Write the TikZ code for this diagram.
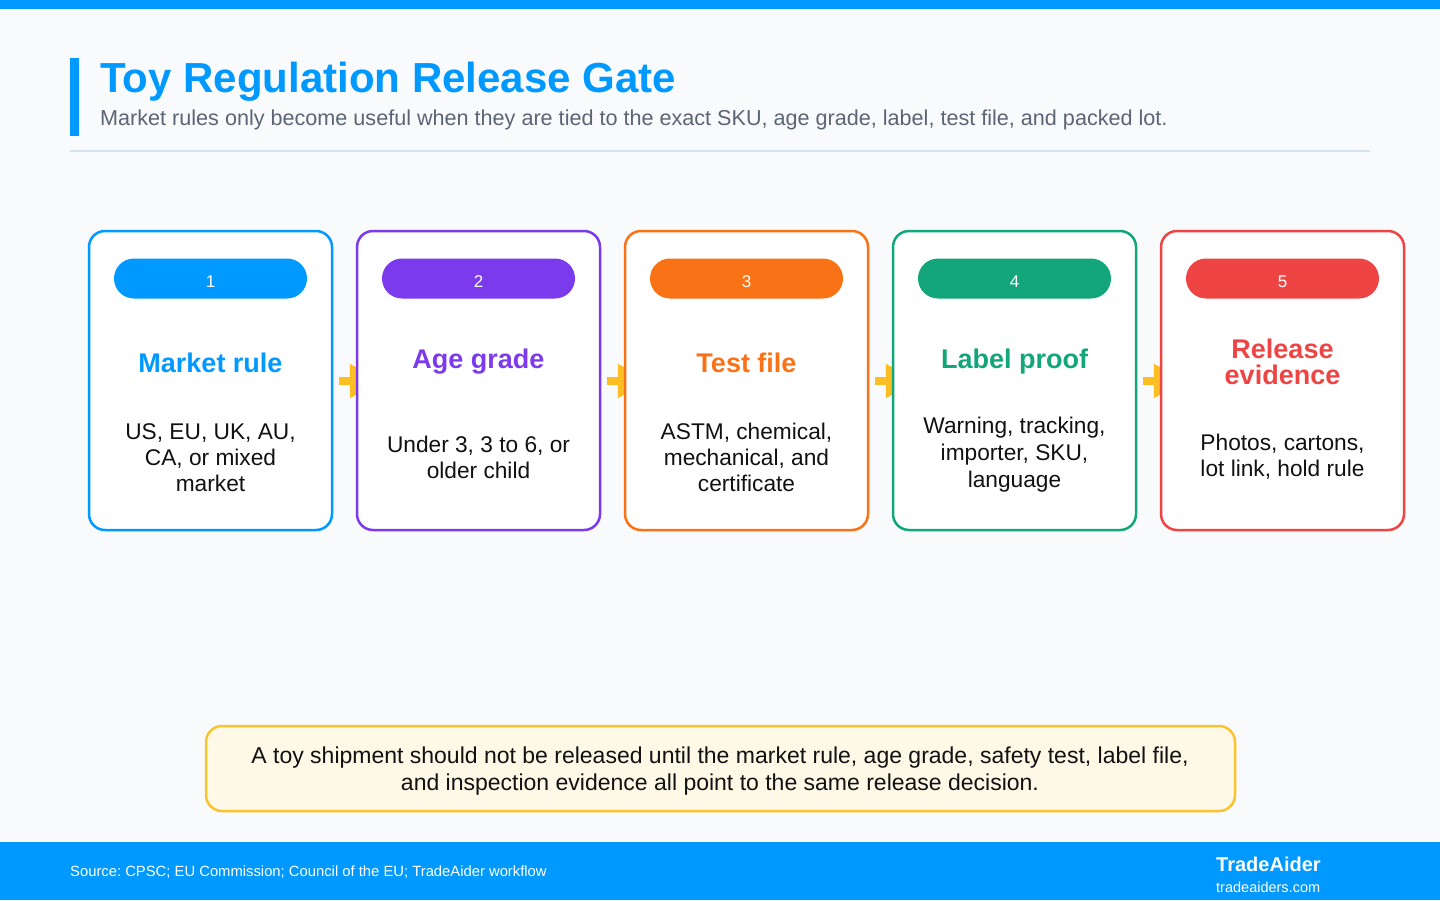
\documentclass[tikz,border=0pt]{standalone}
\usepackage{fontspec}
\setmainfont{Liberation Sans}
\usetikzlibrary{arrows.meta}
\pgfdeclarelayer{bg}
\pgfdeclarelayer{arr}
\pgfsetlayers{bg,arr,main}
\definecolor{pagebg}{HTML}{F8FAFC}
\definecolor{brand}{HTML}{0099FF}
\definecolor{cpurple}{HTML}{7C3AED}
\definecolor{corange}{HTML}{F97316}
\definecolor{cgreen}{HTML}{12A67A}
\definecolor{cred}{HTML}{EF4444}
\definecolor{arrowc}{HTML}{FBBF24}
\definecolor{subgray}{HTML}{5B6575}
\definecolor{sepc}{HTML}{D3E3F1}
\definecolor{ink}{HTML}{111111}
\definecolor{notefill}{HTML}{FEF9E7}
\definecolor{noteline}{HTML}{FBC42D}
\tikzset{
  card/.style={draw=#1, line width=2.5pt, fill=white, rounded corners=16pt,
    minimum width=243pt, minimum height=299pt, inner sep=0pt},
  pill/.style={fill=#1, rounded corners=20pt, minimum width=193pt,
    minimum height=40pt, inner sep=0pt},
  num/.style={text=white, font=\fontsize{17}{20}\selectfont, anchor=base, inner sep=0pt},
  ctitle/.style={text=#1, font=\bfseries\fontsize{27}{30}\selectfont, anchor=base, inner sep=0pt},
  body/.style={text=ink, font=\fontsize{22.7}{26}\selectfont, anchor=base, inner sep=0pt},
  notetext/.style={text=ink, font=\fontsize{23}{27}\selectfont, anchor=base, inner sep=0pt},
  flow/.style={draw=arrowc, line width=8pt, -{Triangle[length=32pt,width=32pt]}},
}
\begin{document}
\frenchspacing
\begin{tikzpicture}[x=1pt,y=-1pt]
\useasboundingbox (0,0) rectangle (1440,900);
\begin{pgfonlayer}{bg}
  \fill[pagebg] (0,0) rectangle (1440,900);
  \fill[brand] (0,0) rectangle (1440,9);
  \fill[brand] (0,842) rectangle (1440,900);
\end{pgfonlayer}

% header
\fill[brand] (70,58) rectangle (79,136);
\node[anchor=base west, inner sep=0pt, text=brand, font=\bfseries\fontsize{42}{48}\selectfont] (title) at (100,92) {Toy Regulation Release Gate};
\node[anchor=base west, inner sep=0pt, text=subgray, font=\fontsize{21.6}{26}\selectfont] (subtitle) at (100,125) {Market rules only become useful when they are tied to the exact SKU, age grade, label, test file, and packed lot.};
\draw[sepc, line width=2pt] (70,151) -- (1370,151);

% cards
\node[card=brand]   (c1) at (210.5,380.5) {};
\node[card=cpurple] (c2) at (478.5,380.5) {};
\node[card=corange] (c3) at (746.5,380.5) {};
\node[card=cgreen]  (c4) at (1014.5,380.5) {};
\node[card=cred]    (c5) at (1282.5,380.5) {};

% pills
\node[pill=brand]   (p1) at (210.5,278.5) {};
\node[pill=cpurple] (p2) at (478.5,278.5) {};
\node[pill=corange] (p3) at (746.5,278.5) {};
\node[pill=cgreen]  (p4) at (1014.5,278.5) {};
\node[pill=cred]    (p5) at (1282.5,278.5) {};
\node[num] (n1) at (210.5,287.5) {1};
\node[num] (n2) at (478.5,287.5) {2};
\node[num] (n3) at (746.5,287.5) {3};
\node[num] (n4) at (1014.5,287.5) {4};
\node[num] (n5) at (1282.5,287.5) {5};

% titles
\node[ctitle=brand]   (t1) at (210.5,372) {Market rule};
\node[ctitle=cpurple] (t2) at (478.5,368) {Age grade};
\node[ctitle=corange] (t3) at (746.5,372) {Test file};
\node[ctitle=cgreen]  (t4) at (1014.5,368) {Label proof};
\node[ctitle=cred]    (t5a) at (1282.5,358) {Release};
\node[ctitle=cred]    (t5b) at (1282.5,384) {evidence};

% bodies
\node[body] (b1a) at (210.5,439) {US, EU, UK, AU,};
\node[body] (b1b) at (210.5,465) {CA, or mixed};
\node[body] (b1c) at (210.5,491) {market};
\node[body] (b2a) at (478.5,452) {Under 3, 3 to 6, or};
\node[body] (b2b) at (478.5,478) {older child};
\node[body] (b3a) at (746.5,439) {ASTM, chemical,};
\node[body] (b3b) at (746.5,465) {mechanical, and};
\node[body] (b3c) at (746.5,491) {certificate};
\node[body] (b4a) at (1014.5,433) {Warning, tracking,};
\node[body] (b4b) at (1014.5,460) {importer, SKU,};
\node[body] (b4c) at (1014.5,487) {language};
\node[body] (b5a) at (1282.5,450) {Photos, cartons,};
\node[body] (b5b) at (1282.5,476) {lot link, hold rule};

% connectors (under the cards)
\begin{pgfonlayer}{arr}
  \draw[flow] ([xshift=6pt,yshift=-0.5pt]c1.east) -- ([xshift=26pt,yshift=-0.5pt]c2.west);
  \draw[flow] ([xshift=6pt,yshift=-0.5pt]c2.east) -- ([xshift=26pt,yshift=-0.5pt]c3.west);
  \draw[flow] ([xshift=6pt,yshift=-0.5pt]c3.east) -- ([xshift=26pt,yshift=-0.5pt]c4.west);
  \draw[flow] ([xshift=6pt,yshift=-0.5pt]c4.east) -- ([xshift=26pt,yshift=-0.5pt]c5.west);
\end{pgfonlayer}

% note
\node[draw=noteline, fill=notefill, line width=2.5pt, rounded corners=16pt,
  minimum width=1029pt, minimum height=85pt, inner sep=0pt] (note) at (720.5,768.5) {};
\node[notetext] (nl1) at (720,763) {A toy shipment should not be released until the market rule, age grade, safety test, label file,};
\node[notetext] (nl2) at (720,790) {and inspection evidence all point to the same release decision.};

% footer
\node[anchor=base west, inner sep=0pt, text=white, font=\fontsize{14.8}{17}\selectfont] (src) at (70,876) {Source: CPSC; EU Commission; Council of the EU; TradeAider workflow};
\node[anchor=base west, inner sep=0pt, text=white, font=\bfseries\fontsize{20}{24}\selectfont] (brandname) at (1216,871.5) {TradeAider};
\node[anchor=base west, inner sep=0pt, text=white, font=\fontsize{14.5}{17}\selectfont] (site) at (1216,892) {tradeaiders.com};
\end{tikzpicture}
\end{document}
